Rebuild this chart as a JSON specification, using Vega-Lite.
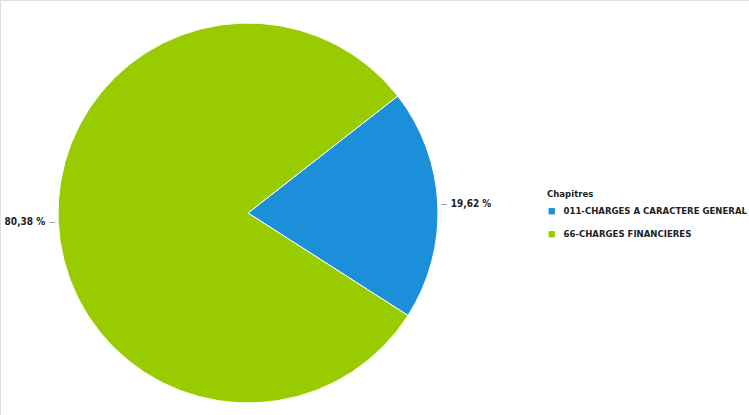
{
  "$schema": "https://vega.github.io/schema/vega-lite/v6.json",
  "width": 749,
  "height": 415,
  "autosize": {"type": "none"},
  "padding": 0,
  "background": "white",
  "data": {
    "values": [
      {"chapitre": "011-CHARGES A CARACTERE GENERAL", "pct": 19.62, "label": "19,62 %", "order": 1},
      {"chapitre": "66-CHARGES FINANCIERES", "pct": 80.38, "label": "80,38 %", "order": 2}
    ]
  },
  "transform": [
    {"stack": "pct", "groupby": [], "sort": [{"field": "order"}], "as": ["s0", "s1"]},
    {"calculate": "(datum.s0 + datum.s1) / 2", "as": "mid"}
  ],
  "encoding": {
    "x": {"value": 248},
    "y": {"value": 213}
  },
  "layer": [
    {
      "mark": {"type": "arc", "radius": 190, "stroke": "white", "strokeWidth": 1},
      "encoding": {
        "theta": {"field": "s0", "type": "quantitative", "scale": {"domain": [0, 100], "range": [0.9076, 7.1908]}},
        "theta2": {"field": "s1"},
        "color": {
          "field": "chapitre",
          "type": "nominal",
          "scale": {"domain": ["011-CHARGES A CARACTERE GENERAL", "66-CHARGES FINANCIERES"], "range": ["#1b8fd9", "#99cc00"]},
          "legend": {
            "title": "Chapitres",
            "orient": "none",
            "legendX": 547,
            "legendY": 189,
            "titleFont": "DejaVu Sans Condensed",
            "titleFontSize": 9.5,
            "titleFontWeight": "bold",
            "titleColor": "#222",
            "titlePadding": 8,
            "labelFont": "DejaVu Sans Condensed",
            "labelFontSize": 9.5,
            "labelFontWeight": "bold",
            "labelColor": "#222",
            "labelLimit": 300,
            "symbolType": "square",
            "symbolSize": 40,
            "symbolStrokeWidth": 0,
            "rowPadding": 12,
            "labelOffset": 7
          }
        }
      }
    },
    {
      "mark": {"type": "text", "radius": 196, "text": "–", "fontSize": 10, "color": "#888"},
      "encoding": {
        "theta": {"field": "mid", "type": "quantitative", "scale": {"domain": [0, 100], "range": [0.9076, 7.1908]}}
      }
    },
    {
      "mark": {"type": "text", "radius": 203, "align": "left", "font": "DejaVu Sans Condensed", "fontSize": 10, "fontWeight": "bold", "color": "#222"},
      "transform": [{"filter": "datum.order == 1"}],
      "encoding": {
        "theta": {"field": "mid", "type": "quantitative", "scale": {"domain": [0, 100], "range": [0.9076, 7.1908]}},
        "text": {"field": "label"}
      }
    },
    {
      "mark": {"type": "text", "radius": 203, "align": "right", "font": "DejaVu Sans Condensed", "fontSize": 10, "fontWeight": "bold", "color": "#222"},
      "transform": [{"filter": "datum.order == 2"}],
      "encoding": {
        "theta": {"field": "mid", "type": "quantitative", "scale": {"domain": [0, 100], "range": [0.9076, 7.1908]}},
        "text": {"field": "label"}
      }
    }
  ]
}
